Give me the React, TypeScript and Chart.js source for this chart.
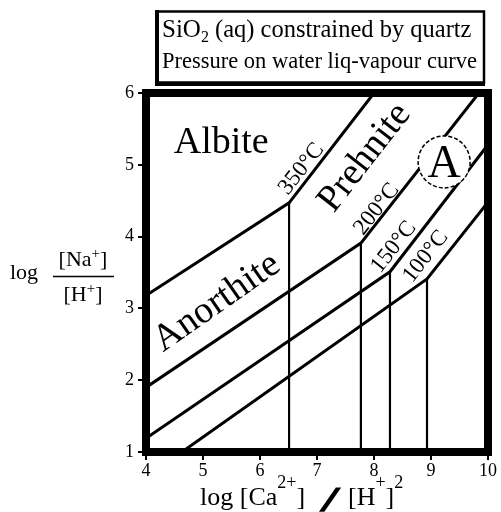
import React, { useEffect, useRef } from 'react';
import { Chart, registerables } from 'chart.js';
Chart.register(...registerables);

const SERIF = '"Liberation Serif", "Times New Roman", serif';

// Axis ticks
const xTickValues = [4, 5, 6, 7, 8, 9, 10];
const yTickValues = [1, 2, 3, 4, 5, 6];

// Equilibrium boundaries (one per temperature)
const temperatures = ['350°C', '200°C', '150°C', '100°C'];
const lowerStartX = [4, 4, 4, 4.63];
const lowerStartY = [3.18, 1.9, 1.19, 1];
const junctionX = [6.51, 7.77, 8.28, 8.93];
const junctionY = [4.47, 3.91, 3.51, 3.41];
const upperEndX = [8.0, 9.84, 10, 10];
const upperEndY = [6, 6, 5.28, 4.48];

// Field and temperature label anchors (data coordinates)
const fieldNames = ['Albite', 'Anorthite', 'Prehnite'];
const fieldX = [5.32, 5.21, 7.79];
const fieldY = [5.35, 3.12, 5.13];
const tempLabelX = [6.7, 8.02, 8.32, 8.88];
const tempLabelY = [4.96, 4.4, 3.87, 3.74];
const markerText = 'A';
const markerX = 9.23;
const markerY = 5.04;

const legendLine1 = ['SiO', '2', ' (aq) constrained by quartz'];
const legendLine2 = 'Pressure on water liq-vapour curve';

type Run = { t: string; size: number; dy?: number; bold?: boolean };

function runsWidth(ctx: CanvasRenderingContext2D, runs: Run[]) {
  let w = 0;
  for (const r of runs) {
    ctx.font = `${r.bold ? 'bold ' : ''}${r.size}px ${SERIF}`;
    w += ctx.measureText(r.t).width;
  }
  return w;
}

function drawRuns(ctx: CanvasRenderingContext2D, x: number, base: number, runs: Run[]) {
  ctx.textAlign = 'left';
  ctx.textBaseline = 'alphabetic';
  for (const r of runs) {
    ctx.font = `${r.bold ? 'bold ' : ''}${r.size}px ${SERIF}`;
    ctx.fillText(r.t, x, base + (r.dy || 0));
    x += ctx.measureText(r.t).width;
  }
  return x;
}

function drawRot(ctx: CanvasRenderingContext2D, text: string, x: number, y: number, deg: number, size: number) {
  ctx.save();
  ctx.translate(x, y);
  ctx.rotate((deg * Math.PI) / 180);
  ctx.font = `${size}px ${SERIF}`;
  ctx.textAlign = 'center';
  ctx.textBaseline = 'alphabetic';
  const m = ctx.measureText(text);
  const off = (m.actualBoundingBoxAscent - m.actualBoundingBoxDescent) / 2;
  ctx.fillText(text, 0, off);
  ctx.restore();
}

const fieldAngles = [0, -35, -52];
const fieldSize = 38;
const tempAngles = [-52, -52, -52, -52];

const overlay = {
  id: 'overlay',
  afterDraw(chart: any) {
    const { ctx, chartArea, scales } = chart;
    const xs = scales.x, ys = scales.y;
    const px = (v: number) => xs.getPixelForValue(v);
    const py = (v: number) => ys.getPixelForValue(v);
    ctx.save();
    ctx.fillStyle = '#000';
    ctx.strokeStyle = '#000';

    // circled marker
    const cx = px(markerX), cy = py(markerY);
    ctx.beginPath();
    ctx.arc(cx, cy, 26, 0, Math.PI * 2);
    ctx.fillStyle = '#fff';
    ctx.fill();
    ctx.setLineDash([4, 2]);
    ctx.lineWidth = 1.5;
    ctx.stroke();
    ctx.setLineDash([]);
    ctx.fillStyle = '#000';
    drawRot(ctx, markerText, cx, cy, 0, 46);

    // field labels
    fieldNames.forEach((n, i) => drawRot(ctx, n, px(fieldX[i]), py(fieldY[i]), fieldAngles[i], fieldSize));
    // temperature labels
    temperatures.forEach((t, i) => drawRot(ctx, t, px(tempLabelX[i]), py(tempLabelY[i]), tempAngles[i], 23));

    // thick frame
    ctx.lineWidth = 8;
    ctx.strokeRect(chartArea.left, chartArea.top, chartArea.right - chartArea.left, chartArea.bottom - chartArea.top);

    // legend box
    ctx.lineWidth = 2.5;
    ctx.strokeRect(157, 11.5, 327, 71);
    ctx.lineWidth = 4;
    ctx.beginPath();
    ctx.moveTo(157, 10);
    ctx.lineTo(157, 84);
    ctx.lineTo(485, 84);
    ctx.stroke();
    drawRuns(ctx, 162, 37, [
      { t: legendLine1[0], size: 25 },
      { t: legendLine1[1], size: 16, dy: 5 },
      { t: legendLine1[2], size: 24.5 },
    ]);
    drawRuns(ctx, 162, 68, [{ t: legendLine2, size: 22.5 }]);

    // y-axis title (fraction)
    drawRuns(ctx, 10, 279, [{ t: 'log', size: 22 }]);
    const num: Run[] = [{ t: '[Na', size: 22 }, { t: '+', size: 15, dy: -8 }, { t: ']', size: 22 }];
    const den: Run[] = [{ t: '[H', size: 22 }, { t: '+', size: 15, dy: -8 }, { t: ']', size: 22 }];
    const fc = 83;
    drawRuns(ctx, fc - runsWidth(ctx, num) / 2, 266, num);
    drawRuns(ctx, fc - runsWidth(ctx, den) / 2, 301, den);
    ctx.lineWidth = 1.5;
    ctx.beginPath();
    ctx.moveTo(53, 276.5);
    ctx.lineTo(114, 276.5);
    ctx.stroke();

    // x-axis title
    drawRuns(ctx, 200, 505, [
      { t: 'log [Ca', size: 26 },
      { t: '2+', size: 18, dy: -17 },
      { t: ']', size: 26 },
    ]);
    ctx.save();
    ctx.translate(322, 510);
    ctx.transform(1, 0, -0.35, 1, 0, 0);
    ctx.font = `bold 32px ${SERIF}`;
    ctx.lineWidth = 3;
    ctx.textAlign = 'left';
    ctx.textBaseline = 'alphabetic';
    ctx.fillText('/', 0, 0);
    ctx.strokeText('/', 0, 0);
    ctx.restore();
    drawRuns(ctx, 348, 505, [
      { t: '[H', size: 26 },
      { t: '+', size: 18, dy: -17 },
      { t: ']', size: 26 },
      { t: '2', size: 18, dy: -17 },
    ]);
    ctx.restore();
  },
};

export default function App() {
  const ref = useRef<HTMLCanvasElement>(null);
  useEffect(() => {
    if (!ref.current) return;
    const datasets: any[] = [];
    temperatures.forEach((t, i) => {
      datasets.push({
        label: t,
        data: [
          { x: lowerStartX[i], y: lowerStartY[i] },
          { x: junctionX[i], y: junctionY[i] },
          { x: upperEndX[i], y: upperEndY[i] },
        ],
        showLine: true,
        borderColor: '#000',
        borderWidth: 3,
        pointRadius: 0,
        tension: 0,
      });
      datasets.push({
        label: t + ' vertical',
        data: [
          { x: junctionX[i], y: yTickValues[0] },
          { x: junctionX[i], y: junctionY[i] },
        ],
        showLine: true,
        borderColor: '#000',
        borderWidth: 2.2,
        pointRadius: 0,
      });
    });
    const tickFont = { family: SERIF, size: 18 };
    const chart = new Chart(ref.current, {
      type: 'scatter',
      data: { datasets },
      options: {
        responsive: false,
        animation: false,
        layout: { padding: { left: 0, right: 13, top: 93, bottom: 0 } },
        plugins: { legend: { display: false }, tooltip: { enabled: false } },
        scales: {
          x: {
            type: 'linear',
            min: xTickValues[0],
            max: xTickValues[xTickValues.length - 1],
            afterBuildTicks: (s: any) => { s.ticks = xTickValues.map((v) => ({ value: v })); },
            afterFit: (s: any) => { s.height = 60; },
            ticks: { color: '#000', font: tickFont, padding: 0, maxRotation: 0, autoSkip: false },
            grid: { drawOnChartArea: false, drawTicks: true, tickLength: 8, color: '#000', lineWidth: 2 },
            border: { display: false },
          },
          y: {
            type: 'linear',
            min: yTickValues[0],
            max: yTickValues[yTickValues.length - 1],
            afterBuildTicks: (s: any) => { s.ticks = yTickValues.map((v) => ({ value: v })); },
            afterFit: (s: any) => { s.width = 146; },
            ticks: { color: '#000', font: tickFont, padding: 4, autoSkip: false },
            grid: { drawOnChartArea: false, drawTicks: true, tickLength: 8, color: '#000', lineWidth: 2 },
            border: { display: false },
          },
        },
      },
      plugins: [overlay],
    });
    return () => chart.destroy();
  }, []);
  return (
    <div style={{ position: 'absolute', left: 0, top: 0, width: 501, height: 512, background: '#fff' }}>
      <canvas ref={ref} width={501} height={512} style={{ display: 'block' }} />
    </div>
  );
}
